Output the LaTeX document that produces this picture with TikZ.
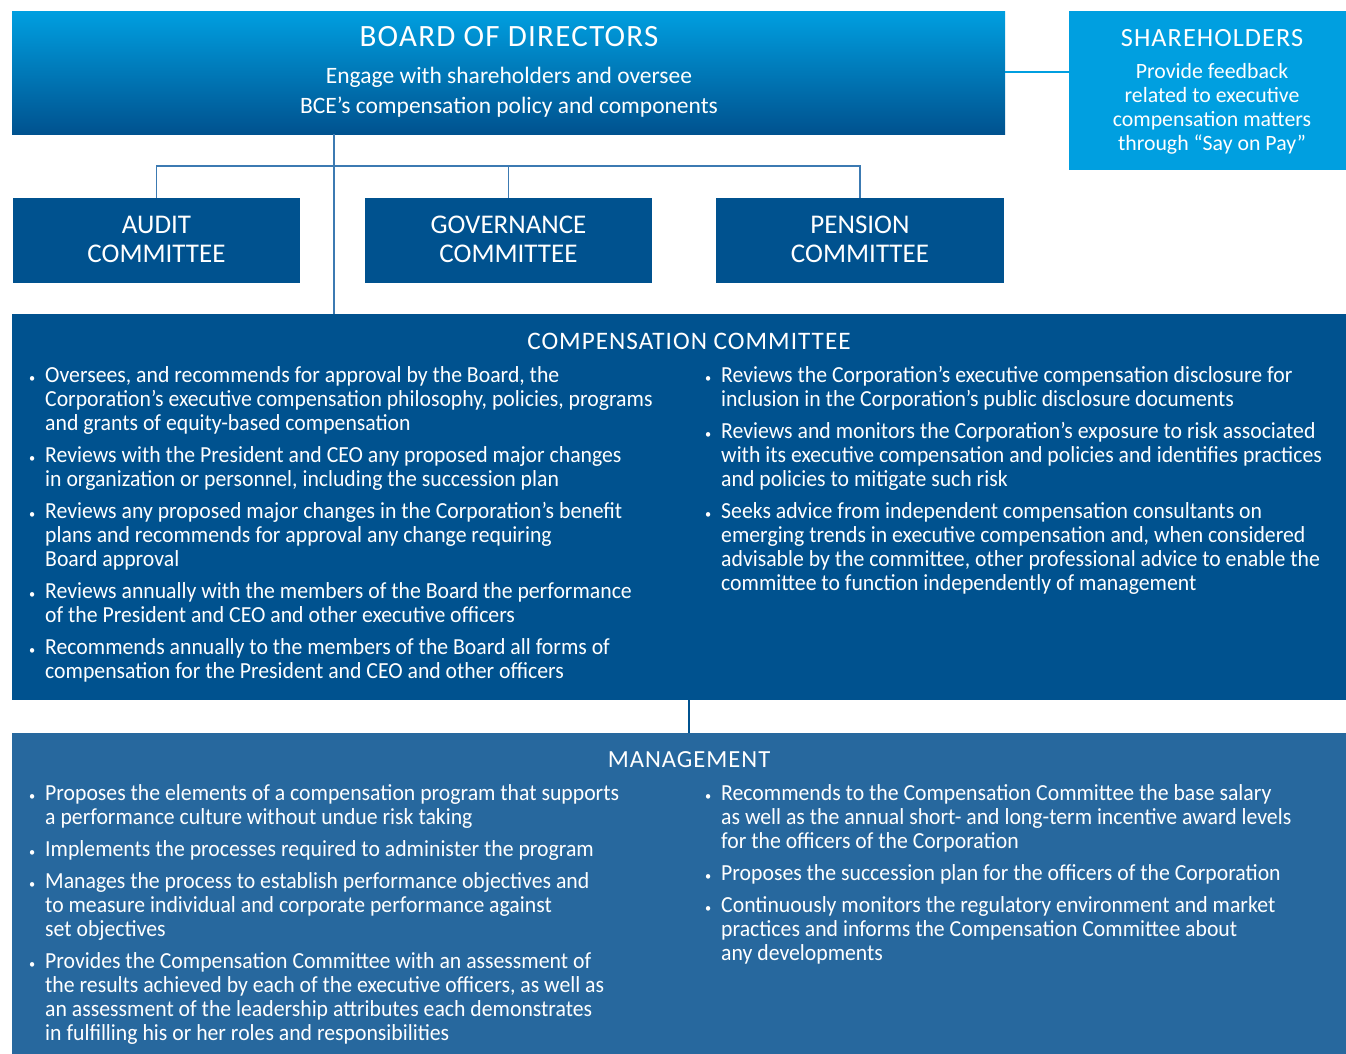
\documentclass[tikz,border=0pt]{standalone}
\usepackage{fontspec}
\setmainfont{Carlito}
\newfontfamily\bodyf{Carlito}[FakeStretch=0.945]
\newfontfamily\capsf{Carlito}[LetterSpace=4]
\definecolor{bceLight}{RGB}{0,159,224}
\definecolor{bceDark}{RGB}{0,82,143}
\definecolor{bceMgmt}{RGB}{39,104,158}
\definecolor{bceLine}{RGB}{60,122,178}
\newcommand\bpt{\llap{{\fontsize{13}{13}\selectfont\textbullet}\hspace{10pt}}}
\newcommand\fl{\rule{0pt}{18pt}}
\begin{document}
\begin{tikzpicture}[x=1pt,y=-1pt,
  box/.style={rectangle, inner sep=0pt, draw=none},
  ttl/.style={anchor=base, inner sep=0pt, text=white, align=center},
  body/.style={anchor=north west, inner sep=0pt, align=left, text=white, font=\bodyf\fontsize{23}{24}\selectfont},
  conn/.style={draw=bceLine, line width=1.6pt}
]
\clip (0,0) rectangle (1346,1053);
\fill[white] (0,0) rectangle (1346,1053);

% boxes
\node[box, top color=bceLight, bottom color=bceDark, minimum width=993pt, minimum height=123pt] (board) at (508.5,72.5) {};
\node[box, fill=bceLight, minimum width=286pt, minimum height=159pt] (sh) at (1212,90.5) {};
\node[box, fill=bceDark, minimum width=287pt, minimum height=85pt] (audit) at (156.5,240.5) {};
\node[box, fill=bceDark, minimum width=287pt, minimum height=85pt] (gov) at (508.5,240.5) {};
\node[box, fill=bceDark, minimum width=288pt, minimum height=85pt] (pension) at (860,240.5) {};
\node[box, fill=bceDark, minimum width=1354pt, minimum height=386pt] (comp) at (689,507) {};
\node[box, fill=bceMgmt, minimum width=1354pt, minimum height=337pt] (mgmt) at (689,901.5) {};

% connectors
\coordinate (trunk) at (334,166);
\draw[conn] (trunk |- board.south) -- (trunk |- comp.north);
\draw[conn] (audit.north) |- (trunk) -| (pension.north);
\draw[conn] (gov.north) -- (gov.north |- trunk);
\draw[draw=bceLight, line width=1.6pt] (board.east |- 0,72) -- (sh.west |- 0,72);
\draw[draw=bceDark, line width=1.6pt] (comp.south) -- (mgmt.north);

% board text
\node[ttl, font=\capsf\fontsize{31}{31}\selectfont] (boardT) at (509,46) {BOARD OF DIRECTORS};
\node[ttl, font=\fontsize{23.5}{23.5}\selectfont] (boardS1) at (509,83) {Engage with shareholders and oversee};
\node[ttl, font=\fontsize{23.5}{23.5}\selectfont] (boardS2) at (509,113) {BCE’s compensation policy and components};

% shareholders
\node[ttl, font=\capsf\fontsize{26.3}{26.3}\selectfont] (shT) at (1212,46) {SHAREHOLDERS};
\node[ttl, font=\fontsize{21.8}{21.8}\selectfont] (sh1) at (1212,78) {Provide feedback};
\node[ttl, font=\fontsize{21.8}{21.8}\selectfont] (sh2) at (1212,102) {related to executive};
\node[ttl, font=\fontsize{21.8}{21.8}\selectfont] (sh3) at (1212,126) {compensation matters};
\node[ttl, font=\fontsize{21.8}{21.8}\selectfont] (sh4) at (1212,150) {through “Say on Pay”};

% committees
\node[ttl, font=\fontsize{27}{27}\selectfont] (auditA) at (156.5,233) {AUDIT};
\node[ttl, font=\fontsize{27}{27}\selectfont] (auditB) at (156.5,262) {COMMITTEE};
\node[ttl, font=\fontsize{27}{27}\selectfont] (govA) at (508.5,233) {GOVERNANCE};
\node[ttl, font=\fontsize{27}{27}\selectfont] (govB) at (508.5,262) {COMMITTEE};
\node[ttl, font=\fontsize{27}{27}\selectfont] (penA) at (860,233) {PENSION};
\node[ttl, font=\fontsize{27}{27}\selectfont] (penB) at (860,262) {COMMITTEE};

% compensation committee
\node[ttl, font=\capsf\fontsize{25.2}{25.2}\selectfont] (compT) at (689,349) {COMPENSATION COMMITTEE};
\node[body] (c1) at (45,364) {\fl\bpt Oversees, and recommends for approval by the Board, the\\Corporation’s executive compensation philosophy, policies, programs\\and grants of equity-based compensation};
\node[body] (c2) at (45,444) {\fl\bpt Reviews with the President and CEO any proposed major changes\\in organization or personnel, including the succession plan};
\node[body] (c3) at (45,500) {\fl\bpt Reviews any proposed major changes in the Corporation’s benefit\\plans and recommends for approval any change requiring\\Board approval};
\node[body] (c4) at (45,580) {\fl\bpt Reviews annually with the members of the Board the performance\\of the President and CEO and other executive officers};
\node[body] (c5) at (45,636) {\fl\bpt Recommends annually to the members of the Board all forms of\\compensation for the President and CEO and other officers};
\node[body] (c6) at (721,364) {\fl\bpt Reviews the Corporation’s executive compensation disclosure for\\inclusion in the Corporation’s public disclosure documents};
\node[body] (c7) at (721,420) {\fl\bpt Reviews and monitors the Corporation’s exposure to risk associated\\with its executive compensation and policies and identifies practices\\and policies to mitigate such risk};
\node[body] (c8) at (721,500) {\fl\bpt Seeks advice from independent compensation consultants on\\emerging trends in executive compensation and, when considered\\advisable by the committee, other professional advice to enable the\\committee to function independently of management};

% management
\node[ttl, font=\capsf\fontsize{24.6}{24.6}\selectfont] (mgmtT) at (689,767) {MANAGEMENT};
\node[body] (m1) at (45,782) {\fl\bpt Proposes the elements of a compensation program that supports\\a performance culture without undue risk taking};
\node[body] (m2) at (45,838) {\fl\bpt Implements the processes required to administer the program};
\node[body] (m3) at (45,870) {\fl\bpt Manages the process to establish performance objectives and\\to measure individual and corporate performance against\\set objectives};
\node[body] (m4) at (45,950) {\fl\bpt Provides the Compensation Committee with an assessment of\\the results achieved by each of the executive officers, as well as\\an assessment of the leadership attributes each demonstrates\\in fulfilling his or her roles and responsibilities};
\node[body] (m5) at (721,782) {\fl\bpt Recommends to the Compensation Committee the base salary\\as well as the annual short- and long-term incentive award levels\\for the officers of the Corporation};
\node[body] (m6) at (721,862) {\fl\bpt Proposes the succession plan for the officers of the Corporation};
\node[body] (m7) at (721,894) {\fl\bpt Continuously monitors the regulatory environment and market\\practices and informs the Compensation Committee about\\any developments};
\end{tikzpicture}
\end{document}
